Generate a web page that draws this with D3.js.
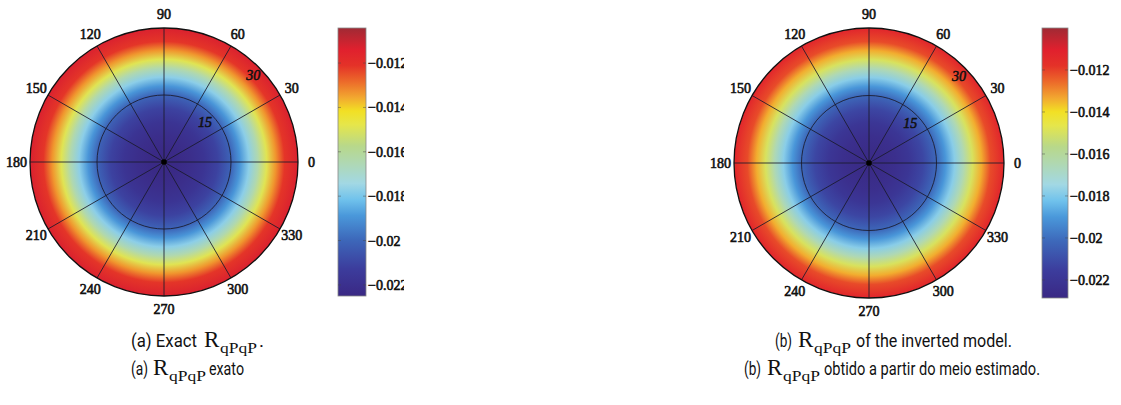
<!DOCTYPE html>
<html>
<head>
<meta charset="utf-8">
<script src="https://cdn.jsdelivr.net/npm/d3@7"></script>
<style>
  html, body { margin: 0; padding: 0; background: #ffffff; }
  svg { display: block; }
  .lbl { font-family: "Liberation Serif", "Times New Roman", serif; font-weight: normal; font-size: 14px; fill: #111; stroke: #111; stroke-width: 0.6px; }
  .rlbl { font-family: "Liberation Serif", "Times New Roman", serif; font-style: italic; font-size: 14px; fill: #111; stroke: #111; stroke-width: 0.55px; }
  .cap { font-family: "Roboto", "Noto Sans", sans-serif; font-size: 19px; fill: #111; }
  .capR { font-family: "Liberation Serif", "Times New Roman", serif; font-size: 23px; fill: #111; }
  .capS { font-family: "Liberation Serif", "Times New Roman", serif; font-size: 14px; fill: #111; }
</style>
</head>
<body>
<svg id="chart" width="1121" height="405"></svg>
<script>
// ---------------- data ----------------
const angleTicks = [0, 30, 60, 90, 120, 150, 180, 210, 240, 270, 300, 330];
const radialTicks = [15, 30];
const radialMax = 30;
// radial samples (incidence angle, degrees) and R_qPqP values
const radii   = [0, 3, 6, 9, 12, 15, 17, 19, 21, 23, 25, 27, 30];
const valuesA = [-0.02245, -0.02238, -0.02215, -0.02175, -0.02110, -0.02010, -0.01895, -0.01775, -0.01645, -0.01490, -0.01335, -0.01215, -0.01130];
const valuesB = [-0.02270, -0.02262, -0.02238, -0.02195, -0.02125, -0.02020, -0.01905, -0.01785, -0.01650, -0.01495, -0.01340, -0.01215, -0.01125];
const colorTicks = [-0.022, -0.020, -0.018, -0.016, -0.014, -0.012];
const domainA = [-0.0225, -0.01042];
const domainB = [-0.02286, -0.0100];
// colormap (fraction of colour range -> colour)
const cmapPos = [0.00, 0.10, 0.21, 0.30, 0.36, 0.42, 0.50, 0.56, 0.64, 0.69, 0.74, 0.80, 0.86, 0.92, 1.00];
const cmapCol = ["#3a2884", "#3c3c9c", "#3d68ba", "#4a98da", "#70c2ec", "#a2d8e4", "#b0d8b0", "#b8d88a",
                 "#e6e64a", "#f2e024", "#f2a830", "#ec6a2a", "#e43228", "#e0202e", "#a02a34"];
// caption pieces: plain text, the symbol R and its subscript
const captionsA = [
  ["(a) Exact", "R", "qPqP", "."],
  ["(a)", "R", "qPqP", "exato"]
];
const captionsB = [
  ["(b)", "R", "qPqP", "of the inverted model."],
  ["(b)", "R", "qPqP", "obtido a partir do meio estimado."]
];

const svg = d3.select("#chart");
const defs = svg.append("defs");

defs.append("clipPath").attr("id", "clipLeft")
  .append("rect").attr("x", 0).attr("y", 0).attr("width", 404).attr("height", 405);

function makeColor(domain) {
  const lo = domain[0], hi = domain[1];
  return d3.scaleLinear()
    .domain(cmapPos.map(p => lo + p * (hi - lo)))
    .range(cmapCol)
    .interpolate(d3.interpolateRgb)
    .clamp(true);
}

function panel(opts) {
  const { id, cx, cy, R, values, domain, cb, captions, capLayout, clip } = opts;
  const root = svg.append("g");
  if (clip) root.attr("clip-path", "url(#" + clip + ")");
  const color = makeColor(domain);
  const rScale = d3.scaleLinear().domain([0, radialMax]).range([0, R]);

  // radial colour field
  const grad = defs.append("radialGradient")
    .attr("id", "field" + id)
    .attr("gradientUnits", "userSpaceOnUse")
    .attr("cx", 0).attr("cy", 0).attr("r", R);
  grad.selectAll("stop").data(radii.map((r, i) => ({ r, v: values[i] })))
    .join("stop")
    .attr("offset", d => rScale(d.r) / R)
    .attr("stop-color", d => color(d.v));

  const g = root.append("g").attr("transform", `translate(${cx},${cy})`);
  g.append("circle").attr("r", rScale(radialMax)).attr("fill", `url(#field${id})`);

  // spokes
  g.selectAll("line.spoke").data(angleTicks).join("line")
    .attr("class", "spoke")
    .attr("x1", 0).attr("y1", 0)
    .attr("x2", d => rScale(radialMax) * Math.cos(d * Math.PI / 180))
    .attr("y2", d => -rScale(radialMax) * Math.sin(d * Math.PI / 180))
    .attr("stroke", "#1a1a2a").attr("stroke-width", 1).attr("stroke-opacity", 0.85);

  // radial circles
  g.selectAll("circle.ring").data(radialTicks).join("circle")
    .attr("class", "ring")
    .attr("r", d => rScale(d))
    .attr("fill", "none")
    .attr("stroke", d => d === radialMax ? "#111" : "#1a1a2a")
    .attr("stroke-width", d => d === radialMax ? 1.3 : 1)
    .attr("stroke-opacity", d => d === radialMax ? 1 : 0.85);

  g.append("circle").attr("r", 2.8).attr("fill", "#000");

  // angle labels
  g.selectAll("text.ang").data(angleTicks).join("text")
    .attr("class", "lbl")
    .attr("x", d => rScale(radialMax) * 1.1 * Math.cos(d * Math.PI / 180))
    .attr("y", d => -rScale(radialMax) * 1.1 * Math.sin(d * Math.PI / 180))
    .attr("text-anchor", "middle")
    .attr("dominant-baseline", "central")
    .text(d => d);

  // radial labels
  g.selectAll("text.rad").data(radialTicks).join("text")
    .attr("class", "rlbl")
    .attr("x", d => (rScale(d) - 10) * Math.cos(44 * Math.PI / 180))
    .attr("y", d => -(rScale(d) - 10) * Math.sin(44 * Math.PI / 180))
    .attr("text-anchor", "middle")
    .attr("dominant-baseline", "central")
    .text(d => d);

  // colorbar
  const y = d3.scaleLinear().domain(domain).range([cb.bottom, cb.top]);
  const lg = defs.append("linearGradient")
    .attr("id", "cb" + id)
    .attr("x1", 0).attr("y1", 1).attr("x2", 0).attr("y2", 0);
  lg.selectAll("stop").data(cmapPos.map((p, i) => ({ p, c: cmapCol[i] })))
    .join("stop")
    .attr("offset", d => d.p)
    .attr("stop-color", d => d.c);
  root.append("rect")
    .attr("x", cb.x).attr("y", cb.top)
    .attr("width", cb.w).attr("height", cb.bottom - cb.top)
    .attr("fill", `url(#cb${id})`)
    .attr("stroke", "#888").attr("stroke-width", 0.8);

  const ticks = root.append("g");
  ticks.selectAll("line.tl").data(colorTicks).join("line")
    .attr("x1", cb.x).attr("x2", cb.x + 3)
    .attr("y1", d => y(d)).attr("y2", d => y(d))
    .attr("stroke", "#444").attr("stroke-opacity", 0.45);
  ticks.selectAll("line.tr").data(colorTicks).join("line")
    .attr("x1", cb.x + cb.w - 3).attr("x2", cb.x + cb.w)
    .attr("y1", d => y(d)).attr("y2", d => y(d))
    .attr("stroke", "#444").attr("stroke-opacity", 0.45);

  const axis = d3.axisRight(y).tickValues(colorTicks).tickSize(0).tickPadding(2)
    .tickFormat(d3.format("~g"));
  const ax = root.append("g").attr("transform", `translate(${cb.x + cb.w},0)`).call(axis);
  ax.select(".domain").remove();
  ax.attr("font-family", null).attr("font-size", null);
  ax.selectAll("text").attr("class", "lbl").attr("fill", null);

  // captions
  captions.forEach((c, i) => {
    const L = capLayout[i];
    svg.append("text").attr("class", "cap").attr("x", L.x[0]).attr("y", L.y)
      .attr("textLength", L.w[0]).attr("lengthAdjust", "spacingAndGlyphs").text(c[0]);
    svg.append("text").attr("class", "capR").attr("x", L.x[1]).attr("y", L.y).text(c[1]);
    svg.append("text").attr("class", "capS").attr("x", L.x[2]).attr("y", L.y + 6)
      .attr("textLength", L.w[2]).attr("lengthAdjust", "spacingAndGlyphs").text(c[2]);
    const t3 = svg.append("text").attr("class", "cap").attr("x", L.x[3]).attr("y", L.y).text(c[3]);
    if (L.w[3]) t3.attr("textLength", L.w[3]).attr("lengthAdjust", "spacingAndGlyphs");
  });
}

panel({
  id: "A", cx: 164, cy: 162, R: 134, values: valuesA, domain: domainA, clip: "clipLeft",
  cb: { x: 338, w: 28, top: 28, bottom: 296 },
  captions: captionsA,
  capLayout: [
    { y: 347, x: [131, 204, 220, 259], w: [66, 0, 37, 0] },
    { y: 375, x: [131, 153, 169, 209], w: [17, 0, 37, 35] }
  ]
});

panel({
  id: "B", cx: 869, cy: 163, R: 135, values: valuesB, domain: domainB,
  cb: { x: 1042, w: 26, top: 28, bottom: 298 },
  captions: captionsB,
  capLayout: [
    { y: 347, x: [775, 798, 814, 856], w: [17, 0, 37, 156] },
    { y: 375, x: [744, 767, 783, 824], w: [17, 0, 37, 216] }
  ]
});
</script>
</body>
</html>
